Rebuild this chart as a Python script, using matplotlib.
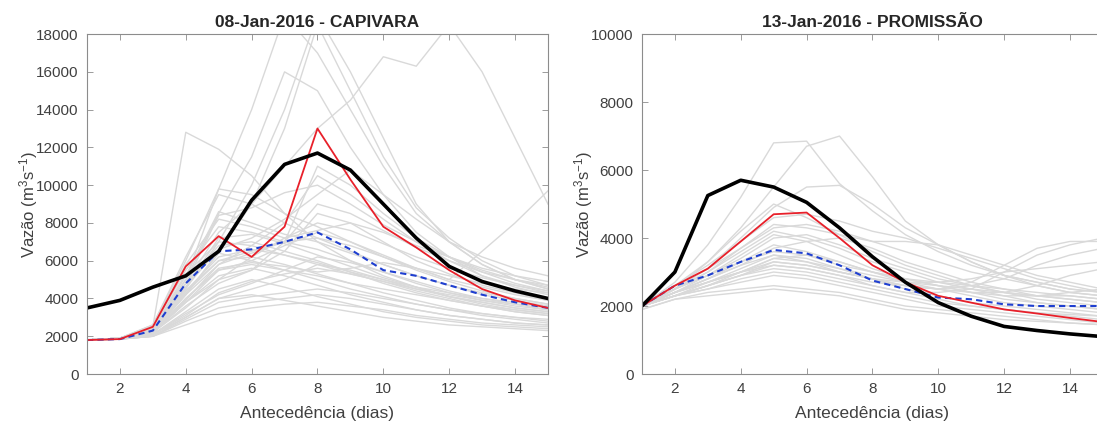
import matplotlib.pyplot as plt

plt.rcParams['font.family'] = ['Liberation Sans', 'DejaVu Sans']
plt.rcParams['mathtext.default'] = 'regular'

dias = list(range(1, 16))

# CAPIVARA - 08-Jan-2016
cap_obs = [1800, 1850, 2500, 5700, 7300, 6200, 7800, 13000, 10300, 7800, 6700, 5500, 4500, 3900, 3500]
cap_prev = [3500, 3900, 4600, 5200, 6500, 9200, 11100, 11700, 10800, 9000, 7200, 5700, 4900, 4400, 4000]
cap_media = [1800, 1850, 2300, 4800, 6500, 6600, 7000, 7500, 6600, 5500, 5200, 4700, 4200, 3800, 3500]
cap_membros = [
    [1800, 1900, 2500, 12800, 11900, 10500, 8500, 7000, 6000, 5200, 4600, 4100, 3700, 3400, 3200],
    [1800, 1900, 2600, 6000, 9800, 14000, 19000, 17000, 14000, 11000, 8500, 7000, 5800, 5000, 4500],
    [1800, 1900, 2400, 5000, 8500, 11500, 16000, 15000, 12000, 9500, 7500, 6200, 5200, 4600, 4200],
    [1800, 1900, 2300, 4500, 7000, 10000, 14000, 19000, 16000, 12500, 9000, 7000, 5800, 5000, 4500],
    [1800, 1900, 2300, 4200, 6500, 9000, 13000, 18500, 15000, 11500, 8800, 7200, 6000, 5200, 4700],
    [1800, 1900, 2400, 4800, 7500, 9000, 11000, 13000, 14500, 16800, 16300, 18500, 16000, 12500, 9000],
    [1800, 1900, 2300, 4400, 6000, 6500, 7000, 7200, 6800, 6200, 5600, 5000, 6500, 8000, 9700],
    [1800, 1850, 2000, 3000, 4000, 4200, 3900, 3600, 3300, 3000, 2800, 2600, 2500, 2400, 2300],
    [1800, 1850, 2100, 3300, 4500, 5000, 4600, 4100, 3700, 3300, 3000, 2800, 2600, 2500, 2400],
    [1800, 1900, 2200, 3800, 5200, 5600, 5200, 4700, 4200, 3800, 3400, 3100, 2900, 2700, 2600],
    [1800, 1900, 2300, 4300, 6000, 6200, 5800, 5300, 4800, 4300, 3900, 3500, 3200, 3000, 2800],
    [1800, 1900, 2400, 4800, 6800, 7000, 6500, 6000, 5400, 4800, 4300, 3900, 3600, 3300, 3100],
    [1800, 1900, 2500, 5500, 7800, 7500, 7000, 6600, 6000, 5400, 4800, 4300, 3900, 3600, 3400],
    [1800, 1900, 2300, 5200, 8600, 8000, 7400, 7000, 6400, 5800, 5200, 4700, 4200, 3900, 3600],
    [1800, 1900, 2600, 6200, 9500, 9000, 8000, 7200, 6500, 5800, 5200, 4700, 4300, 4000, 3700],
    [1800, 1900, 2400, 5000, 9800, 9500, 8500, 7800, 7000, 6300, 5600, 5000, 4600, 4200, 3900],
    [1800, 1900, 2200, 4000, 5500, 6000, 6800, 7500, 7000, 6200, 5500, 4900, 4400, 4000, 3700],
    [1800, 1900, 2200, 3800, 5000, 5500, 6500, 8500, 8000, 7000, 6000, 5300, 4700, 4300, 3900],
    [1800, 1900, 2300, 4200, 5800, 6800, 8000, 10500, 9500, 8200, 7000, 6000, 5200, 4700, 4300],
    [1800, 1900, 2200, 3600, 4800, 5500, 7000, 11000, 10000, 8500, 7200, 6200, 5400, 4800, 4400],
    [1800, 1900, 2100, 3200, 4200, 4800, 5500, 6200, 5900, 5400, 4900, 4400, 4000, 3700, 3400],
    [1800, 1850, 2000, 2800, 3500, 3800, 4000, 4200, 4000, 3700, 3400, 3100, 2900, 2700, 2600],
    [1800, 1850, 2000, 2600, 3200, 3500, 3700, 3800, 3600, 3400, 3100, 2900, 2700, 2600, 2500],
    [1800, 1900, 2200, 4200, 6400, 6000, 5500, 5000, 4500, 4100, 3700, 3400, 3100, 2900, 2700],
    [1800, 1900, 2300, 4600, 7200, 7400, 6900, 6300, 5700, 5100, 4600, 4100, 3800, 3500, 3300],
    [1800, 1900, 2200, 3500, 5000, 6200, 7200, 8000, 7600, 6900, 6200, 5600, 5100, 4700, 4400],
    [1800, 1900, 2100, 3000, 4000, 4500, 5000, 5800, 5500, 5000, 4500, 4100, 3800, 3500, 3300],
    [1800, 1900, 2300, 4400, 6200, 6600, 6300, 5800, 5300, 4900, 4500, 4200, 3900, 3700, 3500],
    [1800, 1900, 2200, 3900, 5800, 6400, 7000, 9000, 8500, 7600, 6700, 6000, 5400, 5000, 4700],
    [1800, 1850, 2000, 2900, 3800, 4100, 4300, 4500, 4300, 4000, 3700, 3400, 3200, 3000, 2900],
    [1800, 1900, 2400, 5300, 7000, 6800, 6300, 5900, 5400, 5000, 4600, 4300, 4000, 3800, 3600],
    [1800, 1900, 2200, 3800, 5500, 5800, 5500, 5200, 4800, 4500, 4200, 3900, 3600, 3400, 3200],
    [1800, 1900, 2500, 5800, 8200, 7800, 7200, 7600, 8000, 7500, 6800, 6200, 5600, 5200, 4900],
    [1800, 1900, 2300, 4600, 6600, 7200, 8200, 9500, 10800, 9500, 8200, 7000, 6200, 5600, 5200],
    [1800, 1850, 2100, 3100, 4300, 4900, 5300, 5600, 5300, 4900, 4400, 4000, 3600, 3300, 3100],
    [1800, 1900, 2200, 4000, 5600, 5900, 5700, 5400, 5600, 5900, 5600, 5200, 4800, 4500, 4300],
    [1800, 1900, 2300, 4800, 8400, 8800, 9600, 10000, 9000, 7900, 7000, 6200, 5500, 5000, 4600],
]

# PROMISSAO - 13-Jan-2016
pro_obs = [2000, 2600, 3100, 3900, 4700, 4750, 4000, 3200, 2700, 2300, 2100, 1900, 1780, 1650, 1530]
pro_prev = [2000, 3000, 5250, 5700, 5500, 5050, 4300, 3450, 2700, 2100, 1700, 1400, 1280, 1180, 1100]
pro_media = [2000, 2600, 2900, 3300, 3650, 3550, 3200, 2750, 2500, 2250, 2200, 2050, 2000, 2000, 2000]
pro_membros = [
    [2000, 2700, 3800, 5200, 6800, 6850, 5600, 4800, 4100, 3600, 3200, 2900, 2700, 2500, 2400],
    [2000, 2500, 3300, 4300, 5500, 6700, 7000, 5800, 4500, 3800, 3300, 2900, 2700, 2500, 2400],
    [2000, 2500, 3100, 4000, 4900, 5500, 5550, 5000, 4300, 3800, 3300, 2900, 2600, 2400, 2300],
    [2000, 2400, 2800, 3200, 3500, 3300, 3000, 2800, 2600, 2500, 2700, 3200, 3700, 3900, 3900],
    [2000, 2300, 2600, 2900, 3100, 3000, 2800, 2600, 2400, 2400, 2500, 3000, 3500, 3800, 4000],
    [2000, 2400, 2700, 3000, 3300, 3200, 3000, 2800, 2600, 2500, 2600, 2800, 3200, 3500, 3700],
    [2000, 2600, 3200, 3900, 4600, 4700, 4500, 4200, 4000, 3700, 3400, 3100, 2800, 2600, 2400],
    [2000, 2500, 3000, 3700, 4400, 4300, 4100, 3900, 3900, 3800, 3500, 3200, 2900, 2700, 2500],
    [2100, 2600, 3300, 4200, 5000, 4600, 4100, 3600, 3200, 2900, 2600, 2400, 2200, 2100, 2000],
    [2000, 2500, 3000, 3600, 4200, 4000, 3700, 3300, 3000, 2700, 2500, 2300, 2100, 2000, 1900],
    [2000, 2400, 2800, 3300, 3800, 3600, 3300, 3000, 2700, 2500, 2300, 2100, 2000, 1900, 1800],
    [2000, 2400, 2700, 3100, 3500, 3400, 3100, 2800, 2500, 2300, 2100, 2000, 1900, 1800, 1700],
    [2000, 2300, 2600, 2900, 3200, 3100, 2900, 2600, 2400, 2200, 2000, 1900, 1800, 1700, 1600],
    [2000, 2300, 2500, 2700, 2900, 2800, 2600, 2400, 2200, 2000, 1900, 1800, 1700, 1600, 1500],
    [1900, 2200, 2400, 2500, 2600, 2500, 2400, 2200, 2000, 1900, 1800, 1700, 1600, 1500, 1450],
    [2000, 2300, 2600, 3000, 3400, 3500, 3300, 3000, 2800, 2600, 2400, 2200, 2100, 2000, 1900],
    [2000, 2500, 2900, 3400, 4000, 4100, 3800, 3400, 3100, 2800, 2600, 2400, 2300, 2200, 2100],
    [2000, 2400, 2800, 3200, 3700, 3900, 4000, 3700, 3300, 3000, 2700, 2500, 2300, 2200, 2100],
    [2000, 2300, 2600, 2900, 3300, 3200, 3000, 2800, 2700, 2700, 2800, 3000, 3100, 3200, 3300],
    [2000, 2500, 2900, 3500, 4100, 3900, 3500, 3100, 2800, 2600, 2400, 2300, 2300, 2400, 2500],
    [2000, 2300, 2500, 2800, 3000, 2900, 2700, 2500, 2300, 2100, 2000, 1900, 1800, 1750, 1700],
    [2000, 2400, 2700, 3000, 3400, 3300, 3100, 2900, 2700, 2600, 2500, 2400, 2300, 2300, 2200],
    [1900, 2200, 2300, 2400, 2500, 2400, 2300, 2100, 1900, 1800, 1700, 1600, 1550, 1500, 1450],
    [2000, 2600, 3100, 3700, 4300, 4400, 4200, 3900, 3600, 3300, 3000, 2800, 2600, 2400, 2300],
    [2000, 2300, 2700, 3000, 3200, 3100, 2900, 2700, 2600, 2500, 2400, 2400, 2600, 2900, 3100],
    [2000, 2400, 2900, 3300, 3600, 3500, 3200, 3000, 2800, 2700, 2600, 2500, 2400, 2300, 2200],
]

cinza = '#d9d9d9'
eixo = '#8c8c8c'
texto = '#404040'

fig = plt.figure(figsize=(10.97, 4.26), dpi=100)
ax1 = fig.add_axes([0.0793, 0.122, 0.4202, 0.798])
ax2 = fig.add_axes([0.5852, 0.122, 0.4202, 0.798])

paineis = [
    (ax1, cap_membros, cap_obs, cap_prev, cap_media, '08-Jan-2016 - CAPIVARA', 18000),
    (ax2, pro_membros, pro_obs, pro_prev, pro_media, '13-Jan-2016 - PROMISSÃO', 10000),
]

for ax, membros, obs, prev, media, titulo, ymax in paineis:
    for m in membros:
        ax.plot(dias, m, color=cinza, lw=1.0)
    ax.plot(dias, media, color='#1f3fd0', ls='--', lw=1.5, dashes=(3, 2))
    ax.plot(dias, obs, color='#e8202a', lw=1.3)
    ax.plot(dias, prev, color='black', lw=2.6)
    ax.set_xlim(1, 15)
    ax.set_ylim(0, ymax)
    ax.set_xticks(range(2, 15, 2))
    ax.set_yticks(range(0, ymax + 1, 2000))
    ax.set_title(titulo, fontsize=12.5, fontweight='bold', color='#262626', pad=5)
    ax.set_xlabel('Antecedência (dias)', fontsize=12.5, color=texto, labelpad=7)
    ax.set_ylabel('Vazão (m$^3$s$^{-1}$)', fontsize=12, color=texto, labelpad=-3)
    ax.tick_params(direction='in', top=True, right=True, labelsize=11, pad=6,
                   colors=eixo, labelcolor=texto, length=4, width=0.6)
    for s in ax.spines.values():
        s.set_color(eixo)
        s.set_linewidth(0.8)

plt.savefig('out.png', dpi=100)
